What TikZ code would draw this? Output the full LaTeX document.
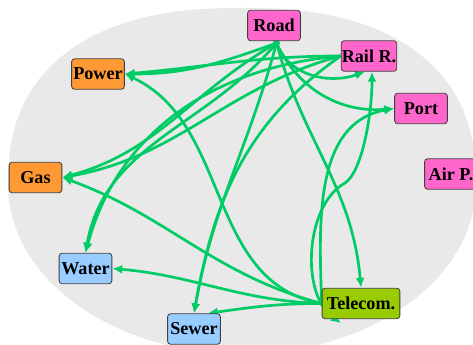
\documentclass[tikz,border=0pt]{standalone}
\usepackage{fontspec}
\setmainfont{Liberation Serif}
\usetikzlibrary{arrows.meta,backgrounds,calc}
\definecolor{rosa}{HTML}{FF66CC}
\definecolor{orangeton}{HTML}{FF9933}
\definecolor{hellblau}{HTML}{99CCFF}
\definecolor{gruengelb}{HTML}{99CC00}
\definecolor{kantengruen}{HTML}{00CC66}
\definecolor{flaeche}{HTML}{E9E9E9}
\tikzset{
	knoten/.style={draw=black!75, line width=0.7pt, rounded corners=2.5pt,
		minimum width=45pt, minimum height=26pt, inner xsep=0.5pt,
		font=\fontsize{15.5}{18}\selectfont\bfseries},
	kante/.style={draw=kantengruen, line width=2.3pt},
}

\begin{document}
\begin{tikzpicture}[x=0.03cm,y=0.03cm,>={Latex[length=8.5pt,width=7.5pt]}]
\useasboundingbox (0,0) rectangle (473,345);

\node[knoten,fill=rosa] (strasse) at (274,319.5) {Road};
\node[knoten,fill=rosa] (bahn) at (369,289) {Rail R.};
\node[knoten,fill=rosa] (hafen) at (421,236.5) {Port};
\node[knoten,fill=rosa] (flughafen) at (451,171) {Air P.};
\node[knoten,fill=orangeton] (strom) at (98,271) {Power};
\node[knoten,fill=orangeton] (gas) at (35.5,167.5) {Gas};
\node[knoten,fill=hellblau] (wasser) at (85.5,76.5) {Water};
\node[knoten,fill=hellblau] (abwasser) at (194,16) {Sewer};
\node[knoten,fill=gruengelb,inner xsep=4pt] (telekom) at (361,41.5) {Telecom.};

\coordinate (punkt) at (276.5,302);
\coordinate (fuss) at (341,22);

\begin{scope}[on background layer]
% grey area: flat upper half, elliptic lower half
\fill[flaeche]
	plot[domain=0.5:89.5, samples=40]
		({242+234*pow(cos(\x),0.8333)},{160+177*pow(sin(\x),0.8333)})
	-- plot[domain=90.5:179.5, samples=40]
		({242-234*pow(-cos(\x),0.8333)},{160+177*pow(sin(\x),0.8333)})
	-- plot[domain=180:360, samples=80]
		({242+234*cos(\x)},{160+169*sin(\x)}) -- cycle;

% Road
\draw[kante,->] (punkt) to[out=-70,in=200] ($(bahn.south)+(-4,0)$);
\draw[kante,->] (punkt) to[out=-65,in=185] (hafen.west);
\draw[kante,->] (punkt) to[out=-75,in=95] (telekom.north);
\draw[kante,->] (punkt) to[out=-105,in=80] (abwasser.north);
\draw[kante,->] (punkt) to[out=-130,in=80] (wasser.north);
\draw[kante,->] (punkt) to[out=-150,in=15] (gas.east);
\draw[kante,->] (punkt) to[out=-160,in=0] (strom.east);
% Rail R.
\draw[kante,->] (bahn.west) to[out=180,in=5] (strom.east);
\draw[kante,->] (bahn.west) to[out=195,in=10] (gas.east);
\draw[kante,->] (bahn.west) to[out=185,in=75] (wasser.north);
\draw[kante,->] (bahn.west) to[out=215,in=80] (abwasser.north);
% Telecom.
\draw[kante,->] (telekom.west) to[out=170,in=-25] (strom.east);
\draw[kante,->] (telekom.west) to[out=165,in=-20] (gas.east);
\draw[kante,->] (telekom.west) to[out=178,in=-5] (wasser.east);
\draw[kante,->] (telekom.west) to[out=180,in=8] ($(abwasser.north east)+(-13,0)$);
\draw[kante,->] (telekom.west) to[out=92,in=190] (hafen.west);
\draw[kante,<->] (fuss) .. controls (300,50) and (305,140) .. (345,162)
	.. controls (362,173) and (372,230) .. ($(bahn.south)+(3,0)$);

\fill[kantengruen] (punkt) circle[radius=3.5];
\end{scope}
\end{tikzpicture}
\end{document}
